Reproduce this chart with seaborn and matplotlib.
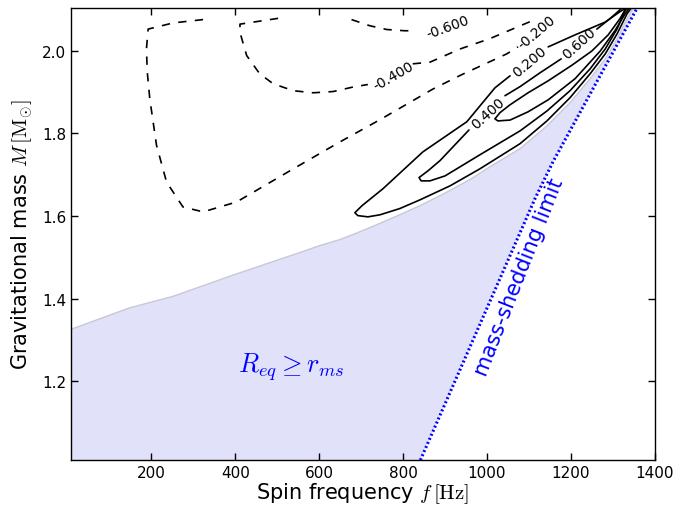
import matplotlib
matplotlib.use('Agg')
import matplotlib.pyplot as plt
import seaborn as sns
import numpy as np

sns.set_style('ticks', {'xtick.direction': 'in', 'ytick.direction': 'in'})
plt.rcParams['font.family'] = ['DejaVu Sans']
plt.rcParams['mathtext.fontset'] = 'cm'
plt.rcParams['lines.scale_dashes'] = False

# 区域边界 R_eq = r_ms
bound_f = [8, 148, 252, 394, 546, 600, 649, 697, 721, 792, 840, 888, 959, 1007,
           1079, 1143, 1198, 1246, 1282, 1310, 1334, 1348]
bound_m = [1.326, 1.378, 1.406, 1.457, 1.509, 1.528, 1.543, 1.562, 1.572, 1.603,
           1.625, 1.649, 1.688, 1.719, 1.763, 1.818, 1.874, 1.932, 1.980, 2.028,
           2.077, 2.103]

# 质量脱落极限
shed_f = [837, 1114.5, 1157.4, 1357.1]
shed_m = [1.0, 1.642, 1.731, 2.101]

# 负值等值线（虚线）
neg06_f = [677, 721, 761, 804, 821]
neg06_m = [2.075, 2.060, 2.051, 2.048, 2.048]

neg04_f = [502, 411, 411, 427, 458, 490, 538, 586, 633, 681, 716]
neg04_m = [2.078, 2.064, 2.044, 1.988, 1.944, 1.920, 1.903, 1.898, 1.901, 1.912, 1.918]
neg04b_f = [823, 864, 936, 1007, 1119]
neg04b_m = [1.968, 1.972, 2.004, 2.029, 2.077]

neg02_f = [323, 252, 192, 188, 190, 196, 212, 236, 275, 323, 403, 538, 649, 745,
           871, 936, 1047, 1074]
neg02_m = [2.075, 2.067, 2.052, 2.004, 1.948, 1.883, 1.771, 1.682, 1.622, 1.610,
           1.634, 1.714, 1.779, 1.833, 1.907, 1.940, 1.992, 2.009]

# 正值等值线（实线）
pos02_f = [1055, 1019, 952, 847, 752, 702, 685, 692, 716, 745, 792, 840, 912, 983,
           1079, 1143, 1198, 1246, 1282, 1310, 1334, 1344]
pos02_m = [1.939, 1.910, 1.828, 1.755, 1.666, 1.625, 1.608, 1.601, 1.598, 1.603,
           1.618, 1.639, 1.673, 1.714, 1.775, 1.830, 1.886, 1.944, 1.992, 2.040,
           2.089, 2.103]
pos02b_f = [1146, 1210, 1282, 1317, 1332]
pos02b_m = [2.009, 2.038, 2.069, 2.094, 2.103]

pos04_f = [957, 888, 859, 838, 843, 864, 900, 983, 1079, 1143, 1198, 1246, 1282,
           1310, 1329, 1334]
pos04_m = [1.808, 1.734, 1.709, 1.693, 1.685, 1.685, 1.697, 1.748, 1.806, 1.854,
           1.903, 1.956, 2.004, 2.052, 2.096, 2.103]
pos04b_f = [1043, 1079, 1126, 1177]
pos04b_m = [1.891, 1.913, 1.946, 1.980]
pos04c_f = [1262, 1293, 1322]
pos04c_m = [2.052, 2.077, 2.103]

pos06_f = [1332, 1317, 1289, 1250, 1203, 1146, 1098, 1055, 1031, 1019, 1026, 1055,
           1098, 1146, 1210, 1270, 1305, 1327, 1339]
pos06_m = [2.103, 2.077, 2.038, 1.999, 1.965, 1.927, 1.898, 1.869, 1.850, 1.835,
           1.830, 1.832, 1.852, 1.881, 1.932, 1.999, 2.048, 2.085, 2.103]

# 等值线标签
lab_text = ['-0.600', '-0.400', '-0.200', '0.200', '0.400', '0.600']
lab_f = [906, 776, 1119, 1102, 1002, 1219]
lab_m = [2.058, 1.940, 2.045, 1.973, 1.850, 2.019]
lab_rot = [20, 30, 40, 40, 42, 42]

fig = plt.figure(figsize=(6.91, 5.06), dpi=100)
ax = fig.add_axes([0.1027, 0.0889, 0.8448, 0.8933])

# 阴影区域
fill_f = bound_f + shed_f[::-1] + [8]
fill_m = bound_m + shed_m[::-1] + [1.0]
ax.fill(fill_f, fill_m, color='#e1e1f9', lw=0, zorder=0)
sns.lineplot(x=bound_f, y=bound_m, sort=False, estimator=None, color='#c8c8d6',
             lw=1.0, ax=ax)

neg = [(neg06_f, neg06_m), (neg04_f, neg04_m), (neg04b_f, neg04b_m), (neg02_f, neg02_m)]
for xs, ys in neg:
    sns.lineplot(x=xs, y=ys, sort=False, estimator=None, color='k', lw=1.2,
                 linestyle=(0, (6, 6)), ax=ax)

pos = [(pos02_f, pos02_m), (pos02b_f, pos02b_m), (pos04_f, pos04_m),
       (pos04b_f, pos04b_m), (pos04c_f, pos04c_m), (pos06_f, pos06_m)]
for xs, ys in pos:
    sns.lineplot(x=xs, y=ys, sort=False, estimator=None, color='k', lw=1.2, ax=ax)

for t, x, y, r in zip(lab_text, lab_f, lab_m, lab_rot):
    ax.text(x, y, t, rotation=r, rotation_mode='anchor', ha='center', va='center',
            fontsize=10, color='k')

sns.lineplot(x=shed_f, y=shed_m, sort=False, estimator=None, color='#0000ff',
             lw=2.2, linestyle=(0, (1.4, 1.8)), ax=ax)

ax.text(532, 1.238, r'$R_{eq} \geq r_{ms}$', color='#0000ff', fontsize=19,
        ha='center', va='center')
ax.text(1076, 1.455, 'mass-shedding limit', color='#0000ff', fontsize=15,
        rotation=68.5, rotation_mode='anchor', ha='center', va='center')

ax.set_xlim(8, 1400)
ax.set_ylim(1.01, 2.103)
ax.set_xticks([200, 400, 600, 800, 1000, 1200, 1400])
ax.set_yticks([1.2, 1.4, 1.6, 1.8, 2.0])
ax.tick_params(top=True, right=True, direction='in', length=5, width=1,
               labelsize=11, colors='k')
for s in ax.spines.values():
    s.set_linewidth(1.0)
    s.set_color('k')
ax.set_xlabel(r'Spin frequency $f\,[\mathrm{Hz}]$', fontsize=15, labelpad=0, color='k')
ax.set_ylabel(r'Gravitational mass $M\,[\mathrm{M}_{\odot}]$', fontsize=15,
              labelpad=5, color='k')

fig.savefig('out.png', dpi=100)
